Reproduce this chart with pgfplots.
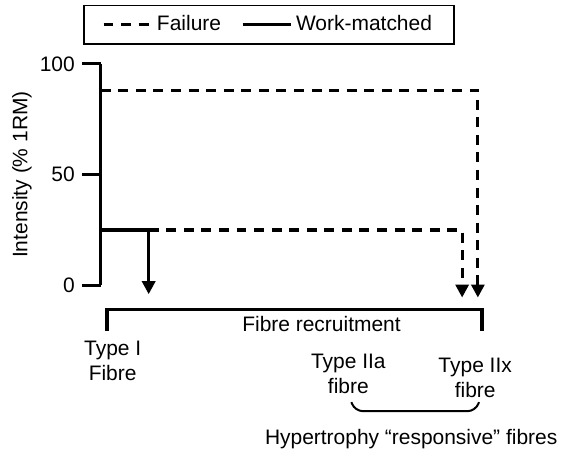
\documentclass[border=0pt]{standalone}
\usepackage{fontspec}
\setmainfont{Liberation Sans}
\usepackage{pgfplots}
\pgfplotsset{compat=1.18}
\usetikzlibrary{arrows.meta}

\begin{document}
\begin{tikzpicture}[font=\fontsize{10.5}{12.6}\selectfont]
\begin{axis}[
  width=192pt, height=111pt, scale only axis,
  xmin=0, xmax=100, ymin=0, ymax=100,
  clip=false, no marks,
  axis x line=none,
  axis y line*=left,
  y axis line style={line width=1.6pt, -},
  ytick={0,50,100}, ytick pos=left,
  tick align=outside, major tick length=9.5pt,
  tick style={line width=1.6pt, black},
  /pgf/number format/assume math mode=true,
  yticklabel style={font=\fontsize{10.5}{12.6}\selectfont},
  ylabel={Intensity (\% 1RM)},
  every axis y label/.style={at={(rel axis cs:-0.2055,0.5)}, rotate=90, anchor=center},
  legend columns=2,
  legend image code/.code={\draw[#1, -] (0pt,0pt) -- (24pt,0pt);},
  legend style={at={(rel axis cs:0.4388,1.266)}, anchor=north, draw=black,
    line width=0.8pt, inner xsep=9pt, inner ysep=3pt,
    /tikz/every even column/.append style={column sep=8pt}},
]
% Failure: high load
\addplot[line width=1.6pt, dash pattern=on 5pt off 3.8pt, line join=miter,
  -{Triangle[width=6.5pt,length=6.5pt]}]
  coordinates {(0,88) (98.4,88) (98.4,-5.5)};
\addlegendentry{Failure}
% Failure: low load
\addplot[forget plot, line width=1.6pt, dash pattern=on 5pt off 3.8pt, line join=miter,
  -{Triangle[width=6.5pt,length=6.5pt]}]
  coordinates {(12.5,25) (94.3,25) (94.3,-5.5)};
% Work-matched
\addplot[line width=1.6pt, line join=miter,
  -{Triangle[width=6.5pt,length=6.5pt]}]
  coordinates {(0,25) (12.5,25) (12.5,-4)};
\addlegendentry{Work-matched}
% recruitment bracket
\addplot[forget plot, line width=1.6pt, line join=miter]
  coordinates {(1.6,-20.7) (1.6,-10.8) (99.5,-10.8) (99.5,-20.7)};

\node at (axis cs:57.6,-17.6) {Fibre recruitment};
\node[align=center] at (axis cs:3.1,-34.2) {Type I\\Fibre};
\node[align=center] at (axis cs:64.6,-40.1) {Type IIa\\fibre};
\node[align=center] at (axis cs:97.7,-41.7) {Type IIx\\fibre};
\draw[line width=1pt, rounded corners=4pt]
  (axis cs:65.4,-52.7) -- (axis cs:66.3,-56.8) -- (axis cs:97.8,-56.8) -- (axis cs:98.7,-52.7);
\node at (axis cs:81.0,-69.4) {Hypertrophy “responsive” fibres};

\path (rel axis cs:-0.263,-0.757) rectangle (rel axis cs:1.2057,1.288);
\end{axis}
\end{tikzpicture}
\end{document}
